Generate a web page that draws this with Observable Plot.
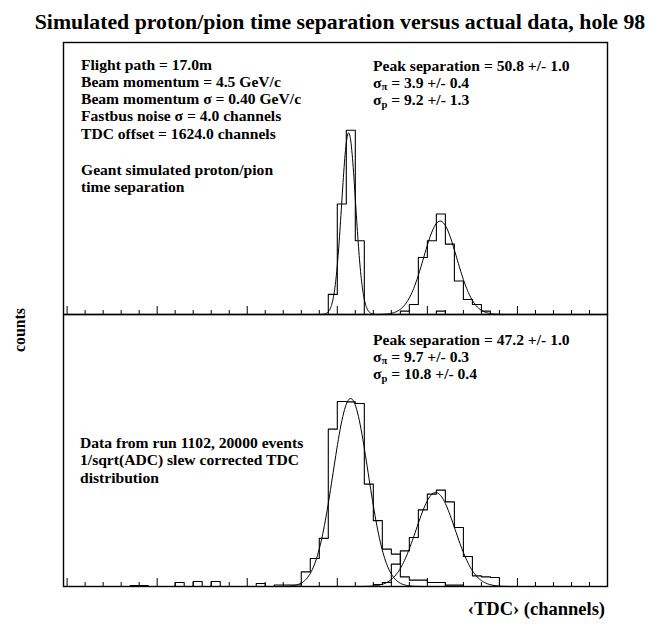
<!DOCTYPE html>
<html><head><meta charset="utf-8">
<script src="https://cdn.jsdelivr.net/npm/d3@7"></script>
<script src="https://cdn.jsdelivr.net/npm/@observablehq/plot@0.6"></script>
<style>
body{margin:0;background:#fff;}
#wrap{position:relative;width:652px;height:631px;overflow:hidden;}
#wrap svg{position:absolute;left:0;background:transparent;overflow:visible;}
</style></head><body><div id="wrap"></div>
<script>
// ---- data (TDC channels, 5-channel bins) ----
const binWidth = 5;
const majorTicks = [1500, 1550, 1600, 1650, 1700, 1750, 1800];
const minorTicks = [1510,1520,1530,1540,1560,1570,1580,1590,1610,1620,1630,1640,1660,1670,1680,1690,1710,1720,1730,1740,1760,1770,1780,1790];

// top panel: Geant simulation (counts)
const simPionLo = [1645, 1650, 1655, 1660, 1705];
const simPionCounts = [6, 33, 55, 22, 1];
const simProtonLo = [1685, 1690, 1695, 1700, 1705, 1710, 1715, 1720, 1725, 1730];
const simProtonCounts = [1, 3, 17, 22, 30, 21, 10, 4.5, 3, 1];
const simFitCenter = [1656.3, 1707.1];
const simFitSigma = [3.9, 9.2];
const simFitAmp = [54.2, 27.9];

// bottom panel: run 1102 data (counts)
const dataPionLo = [1535,1540,1560,1570,1580,1605,1615,1620,1625,1630,1635,1640,1645,1650,1655,1660,1665,1670,1675,1680,1685,1690,1695,1700,1705,1710,1715];
const dataPionCounts = [12,12,48,60,60,36,18,18,18,176,336,578,1888,2220,2216,2196,1229,790,449,389,116,77,77,48,48,17,17];
const dataProtonLo = [1670,1675,1680,1685,1690,1695,1700,1705,1710,1715,1720,1725,1730,1735];
const dataProtonCounts = [24,48,269,428,588,920,1109,1157,1016,708,360,128,116,108];
const dataFitCenter = [1657.4, 1704.6];
const dataFitSigma = [9.7, 10.8];
const dataFitAmp = [2256, 1128];

// ---- helpers ----
function steps(lo, counts) {
  const pts = [];
  let prevHi = null;
  lo.forEach((l, i) => {
    const h = l + binWidth;
    if (prevHi === null) pts.push({x: l, y: 0});
    else if (prevHi !== l) { pts.push({x: prevHi, y: 0}); pts.push({x: l, y: 0}); }
    pts.push({x: l, y: counts[i]}, {x: h, y: counts[i]});
    prevHi = h;
  });
  pts.push({x: prevHi, y: 0});
  return pts;
}
function gaussPts(c, s, a) {
  return d3.range(-4.5, 4.5001, 0.05).map(z => ({x: c + z * s, y: a * Math.exp(-0.5 * z * z)}));
}

const font = '"Liberation Serif","Times New Roman",serif';
const frameH = 272;

function panel(hists, fc, fs, fa, yMax, height, mt, mb) {
  return Plot.plot({
    width: 652, height, marginLeft: 63, marginRight: 45, marginTop: mt, marginBottom: mb,
    style: {background: "transparent", overflow: "visible"},
    x: {domain: [1498, 1800], axis: null},
    y: {domain: [0, yMax], axis: null},
    marks: [
      Plot.ruleX(minorTicks, {x: d => d, insetTop: frameH - 4, stroke: "black", strokeWidth: 1}),
      Plot.ruleX(majorTicks, {x: d => d, insetTop: frameH - 8, stroke: "black", strokeWidth: 1}),
      ...hists.map(([lo, c]) => Plot.line(steps(lo, c), {x: "x", y: "y", stroke: "black", strokeWidth: 1.1})),
      ...fc.map((c, i) => Plot.line(gaussPts(c, fs[i], fa[i]), {x: "x", y: "y", stroke: "black", strokeWidth: 1})),
      Plot.frame({stroke: "black", strokeWidth: 1.4})
    ]
  });
}

const wrap = document.getElementById("wrap");
const topSvg = panel([[simPionLo, simPionCounts], [simProtonLo, simProtonCounts]], simFitCenter, simFitSigma, simFitAmp, 81.2, 324, 42, 10);
topSvg.style.top = "0px";
const botSvg = panel([[dataPionLo, dataPionCounts], [dataProtonLo, dataProtonCounts]], dataFitCenter, dataFitSigma, dataFitAmp, 3264, 327, 10, 45);
botSvg.style.top = "304px";
wrap.appendChild(topSvg);
wrap.appendChild(botSvg);

const FS = 15.6, LH = 17.3;
function newText(svg, x, y, size, anchor, rotate) {
  const t = d3.select(svg).append("text")
    .attr("x", x).attr("y", y)
    .attr("font-family", font).attr("font-weight", "bold").attr("font-size", size)
    .attr("text-anchor", anchor).attr("fill", "black");
  if (rotate) t.attr("transform", `rotate(${rotate},${x},${y})`);
  return t;
}
// one text element per block; each line a tspan, subscripts as nested tspans
function addBlock(svg, x, y0, lines, lh = LH, size = FS) {
  const t = newText(svg, x, y0, size, "start", 0);
  lines.forEach((line, i) => {
    const ln = t.append("tspan").attr("x", x).attr("y", y0 + i * lh);
    if (typeof line === "string") ln.text(line);
    else line.forEach(p => {
      const s = ln.append("tspan").text(p.t);
      if (p.sub) s.attr("dy", 2.6).attr("font-size", size * 0.68);
      if (p.back) s.attr("dy", -2.6);
    });
  });
}
function addText(svg, x, y, str, size, anchor = "start", rotate = 0) {
  newText(svg, x, y, size, anchor, rotate).text(str);
}

// title
addText(topSvg, 340, 29, "Simulated proton/pion time separation versus actual data, hole 98", 21.8, "middle");

addBlock(topSvg, 81, 69.5, [
  "Flight path = 17.0m",
  "Beam momentum = 4.5 GeV/c",
  "Beam momentum σ = 0.40 GeV/c",
  "Fastbus noise σ = 4.0 channels",
  "TDC offset = 1624.0 channels"
]);
addBlock(topSvg, 81, 175, ["Geant simulated proton/pion", "time separation"]);

addBlock(topSvg, 373, 70.5, [
  "Peak separation = 50.8 +/- 1.0",
  [{t: "σ"}, {t: "π", sub: true}, {t: " = 3.9 +/- 0.4", back: true}],
  [{t: "σ"}, {t: "p", sub: true}, {t: " = 9.2 +/- 1.3", back: true}]
]);

// bottom panel (coords relative to its svg top at 304)
const o = 304;
addBlock(botSvg, 373, 344.5 - o, [
  "Peak separation = 47.2 +/- 1.0",
  [{t: "σ"}, {t: "π", sub: true}, {t: " = 9.7 +/- 0.3", back: true}],
  [{t: "σ"}, {t: "p", sub: true}, {t: " = 10.8 +/- 0.4", back: true}]
]);
addBlock(botSvg, 80, 448 - o, [
  "Data from run 1102, 20000 events",
  "1/sqrt(ADC) slew corrected TDC",
  "distribution"
]);

addText(botSvg, 605, 615 - o, "‹TDC› (channels)", 18.5, "end");
addText(botSvg, 25, 330 - o, "counts", 15.8, "middle", -90);
</script></body></html>
